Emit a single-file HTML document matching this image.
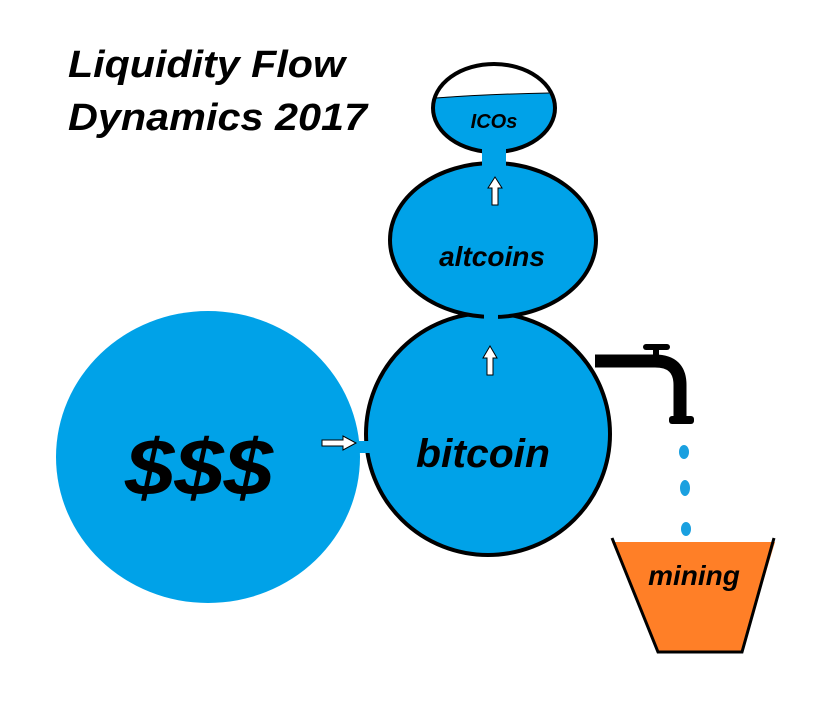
<!DOCTYPE html>
<html><head><meta charset="utf-8"><style>
html,body{margin:0;padding:0;background:#fff;}
svg{display:block;}
text{font-family:"Liberation Sans",sans-serif;font-weight:bold;font-style:italic;fill:#000;}
</style></head><body>
<svg width="831" height="708" viewBox="0 0 831 708" xmlns="http://www.w3.org/2000/svg">
<rect width="831" height="708" fill="#fff"/>
<text x="68" y="77" font-size="38" textLength="277" lengthAdjust="spacingAndGlyphs">Liquidity Flow</text>
<text x="68" y="130" font-size="38" textLength="299" lengthAdjust="spacingAndGlyphs">Dynamics 2017</text>

<!-- $$$ -->
<ellipse cx="208" cy="457" rx="152" ry="146" fill="#00a2e8"/>
<text x="125" y="495" font-size="80" textLength="148" lengthAdjust="spacingAndGlyphs">$$$</text>

<!-- faucet -->
<path d="M595 361 H655 Q680 361 680 385 V420" fill="none" stroke="#000" stroke-width="13"/>
<rect x="653" y="347" width="6" height="16" fill="#000"/>
<rect x="643" y="344" width="27" height="6" rx="3" fill="#000"/>
<rect x="669" y="416" width="25" height="8" rx="3" fill="#000"/>

<!-- bitcoin -->
<ellipse cx="488" cy="434" rx="122" ry="121" fill="#00a2e8" stroke="#000" stroke-width="4"/>
<!-- altcoins -->
<ellipse cx="493" cy="240" rx="103" ry="77" fill="#00a2e8" stroke="#000" stroke-width="4"/>
<!-- ICOs -->
<defs><clipPath id="c"><ellipse cx="494" cy="108" rx="61" ry="44"/></clipPath></defs>
<ellipse cx="494" cy="108" rx="61" ry="44" fill="#fff"/>
<path d="M430 98 Q490 94 560 93 V160 H430 Z" fill="#00a2e8" clip-path="url(#c)"/>
<path d="M436 98 Q490 94 549 93" fill="none" stroke="#000" stroke-width="1"/>
<ellipse cx="494" cy="108" rx="61" ry="44" fill="none" stroke="#000" stroke-width="4"/>
<!-- necks -->
<rect x="482" y="145" width="24" height="22" fill="#00a2e8"/>
<rect x="484" y="308" width="14" height="12" fill="#00a2e8"/>
<rect x="358" y="441" width="12" height="12" fill="#00a2e8"/>

<text x="494" y="128" font-size="20" text-anchor="middle">ICOs</text>
<text x="492" y="266" font-size="28" text-anchor="middle">altcoins</text>
<text x="483" y="467" font-size="40" text-anchor="middle" textLength="134" lengthAdjust="spacingAndGlyphs">bitcoin</text>

<!-- arrows -->
<path d="M322 440 H343 V436 L356 443 L343 450 V446 H322 Z" fill="#fff" stroke="#000" stroke-width="1"/>
<path d="M487 375 V358 H483 L490 346 L497 358 H493 V375 Z" fill="#fff" stroke="#000" stroke-width="1"/>
<path d="M492 205 V188 H488 L495 177 L502 188 H498 V205 Z" fill="#fff" stroke="#000" stroke-width="1"/>

<!-- drops -->
<ellipse cx="684" cy="452" rx="5" ry="7" fill="#1aa0e0"/>
<ellipse cx="685" cy="488" rx="5" ry="8" fill="#1aa0e0"/>
<ellipse cx="686" cy="529" rx="5" ry="7" fill="#1aa0e0"/>

<!-- bucket -->
<path d="M612 542 H775 L742 652 H658 Z" fill="#ff7f27"/>
<path d="M612 538 L658 652 H742 L774 538" fill="none" stroke="#000" stroke-width="3"/>
<text x="694" y="585" font-size="28" text-anchor="middle">mining</text>
</svg>
</body></html>
